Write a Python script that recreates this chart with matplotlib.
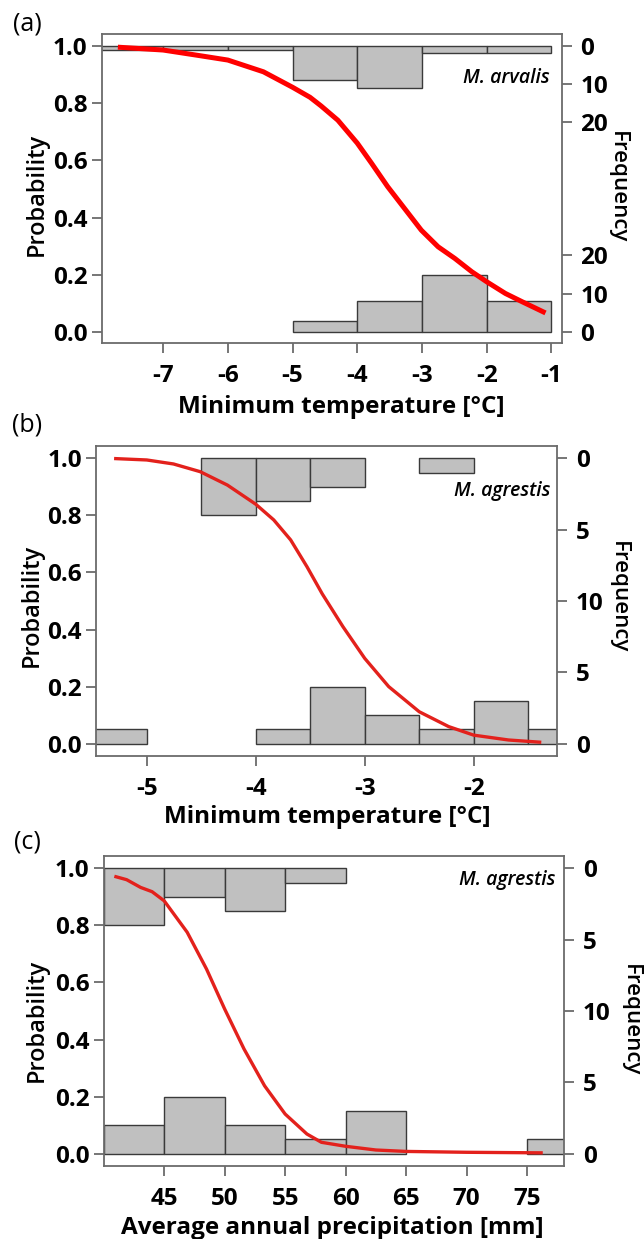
import matplotlib
matplotlib.use("Agg")
import matplotlib.pyplot as plt

plt.rcParams['font.family'] = ['Open Sans', 'DejaVu Sans']
plt.rcParams['axes.unicode_minus'] = False

# (a) M. arvalis, minimum temperature
a_curve_x = [-7.70, -7.0, -6.48, -6.0, -5.45, -5.0, -4.73, -4.56, -4.30, -4.0, -3.78,
             -3.53, -3.27, -3.01, -2.75, -2.49, -2.23, -2.0, -1.71, -1.45, -1.09]
a_curve_p = [0.995, 0.985, 0.967, 0.950, 0.909, 0.855, 0.82, 0.79, 0.74, 0.66, 0.59,
             0.508, 0.432, 0.356, 0.298, 0.257, 0.211, 0.176, 0.135, 0.106, 0.067]
a_bins = [-8, -7, -6, -5, -4, -3, -2]
a_absent = [1, 1, 1, 9, 11, 2, 2]
a_present = [0, 0, 0, 3, 8, 15, 8]
a_xticks = [-7, -6, -5, -4, -3, -2, -1]

# (b) M. agrestis, minimum temperature
b_curve_x = [-5.30, -5.0, -4.755, -4.51, -4.26, -4.0, -3.835, -3.68, -3.53, -3.39,
             -3.20, -3.0, -2.78, -2.50, -2.23, -2.0, -1.68, -1.38]
b_curve_p = [0.999, 0.994, 0.98, 0.953, 0.906, 0.839, 0.784, 0.714, 0.62, 0.525,
             0.41, 0.299, 0.20, 0.112, 0.06, 0.030, 0.013, 0.005]
b_bins = [-5.5, -5.0, -4.5, -4.0, -3.5, -3.0, -2.5, -2.0, -1.5]
b_absent = [0, 0, 4, 3, 2, 0, 1, 0, 0]
b_present = [1, 0, 0, 1, 4, 2, 1, 3, 1]
b_xticks = [-5, -4, -3, -2]

# (c) M. agrestis, precipitation
c_curve_x = [40.88, 41.9, 43.05, 44.0, 45.0, 46.9, 48.5, 50.0, 51.6, 53.3, 55.0,
             56.8, 58.0, 60.0, 62.5, 65.0, 70.0, 76.3]
c_curve_p = [0.972, 0.96, 0.933, 0.918, 0.886, 0.776, 0.647, 0.507, 0.367, 0.238, 0.139,
             0.069, 0.04, 0.026, 0.013, 0.008, 0.005, 0.003]
c_bins = [40, 45, 50, 55, 60, 65, 70, 75]
c_absent = [4, 2, 3, 1, 0, 0, 0, 0]
c_present = [2, 4, 2, 1, 3, 0, 0, 1]
c_xticks = [45, 50, 55, 60, 65, 70, 75]

W, H = 644, 1239
fig = plt.figure(figsize=(W / 100, H / 100), dpi=100)

FRAME = '#6b6b6b'
BAR = '#c0c0c0'
EDGE = '#3a3a3a'
TICKSIZE = 17.5


def box(l, t, r, b):
    return [l / W, 1 - b / H, (r - l) / W, (b - t) / H]


def ftext(x, y, s, **kw):
    fig.text(x / W, 1 - y / H, s, **kw)


def panel(rect, xlim, ylim, cx, cp, bins, bw, absent, present, xticks,
          scale, top_ticks, bot_ticks, red, lw, species, sp_pos):
    ax = fig.add_axes(rect)
    axb = ax.twinx()
    axt = ax.twinx()
    ax.set_zorder(3)
    ax.patch.set_visible(False)

    ax.set_xlim(xlim)
    ax.set_ylim(ylim)
    axb.set_ylim(ylim[0] / scale, ylim[1] / scale)
    axt.set_ylim((1 - ylim[0]) / scale, (1 - ylim[1]) / scale)

    lb = [x for x, n in zip(bins, present) if n > 0]
    nb = [n for n in present if n > 0]
    axb.bar(lb, nb, width=bw, align='edge', color=BAR, edgecolor=EDGE, linewidth=1.0)
    lt = [x for x, n in zip(bins, absent) if n > 0]
    nt = [n for n in absent if n > 0]
    axt.bar(lt, nt, width=bw, align='edge', color=BAR, edgecolor=EDGE, linewidth=1.0)

    ax.plot(cx, cp, color=red, lw=lw, solid_capstyle='butt', solid_joinstyle='round')

    for s in ax.spines.values():
        s.set_color(FRAME)
        s.set_linewidth(1.3)
    for a in (axb, axt):
        for s in a.spines.values():
            s.set_visible(False)

    ax.set_yticks([0, 0.2, 0.4, 0.6, 0.8, 1.0], ['0.0', '0.2', '0.4', '0.6', '0.8', '1.0'])
    ax.set_xticks(xticks, [str(t) for t in xticks])
    ax.tick_params(axis='both', direction='out', length=7.2, width=1.3, color=FRAME,
                   labelsize=TICKSIZE)
    ax.tick_params(axis='y', pad=3)
    ax.tick_params(axis='x', pad=8)
    for lab in ax.get_xticklabels() + ax.get_yticklabels():
        lab.set_fontweight('bold')

    axb.set_yticks(bot_ticks, [str(t) for t in bot_ticks])
    axt.set_yticks(top_ticks, [str(t) for t in top_ticks])
    for a in (axb, axt):
        a.tick_params(axis='y', direction='out', length=7.2, width=1.3, color=FRAME,
                      labelsize=TICKSIZE, pad=6)
        for lab in a.get_yticklabels():
            lab.set_fontweight('bold')

    ax.text(sp_pos[0], sp_pos[1], species, transform=ax.transAxes, ha='right',
            va='center', fontsize=14, fontstyle='italic', fontweight='semibold')
    return ax


panel(box(101.7, 34, 562, 343), (-7.95, -0.835), (-0.038, 1.041),
      a_curve_x, a_curve_p, a_bins, 1.0, a_absent, a_present, a_xticks,
      0.01338, [0, 10, 20], [0, 10, 20], '#ff0000', 3.6, 'M. arvalis', (0.974, 0.859))
panel(box(96, 445.7, 557.3, 755.7), (-5.466, -1.233), (-0.042, 1.044),
      b_curve_x, b_curve_p, b_bins, 0.5, b_absent, b_present, b_xticks,
      0.05, [0, 5, 10], [0, 5], '#e3211c', 2.4, 'M. agrestis', (0.985, 0.854))
panel(box(103.7, 856.3, 564.3, 1165.7), (40.0, 78.08), (-0.042, 1.042),
      c_curve_x, c_curve_p, c_bins, 5.0, c_absent, c_present, c_xticks,
      0.05, [0, 5, 10], [0, 5], '#e3211c', 2.4, 'M. agrestis', (0.980, 0.923))

for lab, y in [('(a)', 24), ('(b)', 425), ('(c)', 842)]:
    ftext(27, y, lab, ha='center', va='center', fontsize=18, fontweight='medium')

ftext(341, 413, 'Minimum temperature [\u00b0C]', ha='center', va='baseline',
      fontsize=17.5, fontweight='bold')
ftext(327, 823, 'Minimum temperature [\u00b0C]', ha='center', va='baseline',
      fontsize=17.5, fontweight='bold')
ftext(332, 1234, 'Average annual precipitation [mm]', ha='center', va='baseline',
      fontsize=17.5, fontweight='bold')

for x, y in [(36.7, 194), (31.7, 605), (36.7, 1020)]:
    ftext(x, y, 'Probability', ha='center', va='center', rotation=90, fontsize=17,
          fontweight='semibold')
for x, y in [(617, 187), (618.7, 597), (630.3, 1020)]:
    ftext(x, y, 'Frequency', ha='center', va='center', rotation=270, fontsize=16,
          fontweight='semibold')

fig.savefig('out.png', dpi=100)
